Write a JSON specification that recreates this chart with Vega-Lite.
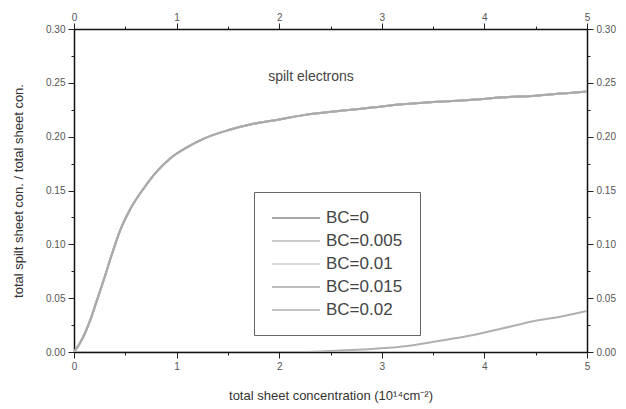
{
  "$schema": "https://vega.github.io/schema/vega-lite/v6.json",
  "autosize": "none",
  "width": 513,
  "height": 323,
  "padding": {"left": 74, "top": 29, "right": 39, "bottom": 57},
  "background": "white",
  "config": {
    "view": {"stroke": null},
    "axis": {
      "grid": false,
      "domainColor": "#111",
      "domainWidth": 1.5,
      "tickColor": "#222",
      "tickWidth": 1,
      "labelColor": "#555",
      "labelFont": "Liberation Sans",
      "labelFontSize": 10,
      "titleFont": "Liberation Sans",
      "titleFontSize": 13,
      "titleFontWeight": "normal",
      "titleColor": "#333"
    },
    "legend": {
      "labelFont": "Liberation Sans"
    }
  },
  "layer": [
    {
      "data": {
        "values": [
          {"x": 0, "b0": 0, "b005": 0, "b01": 0, "b015": 0, "b02": 0},
          {"x": 0.05, "b0": 0.007, "b005": 0.007, "b01": 0.007, "b015": 0.007, "b02": 0},
          {"x": 0.1, "b0": 0.016, "b005": 0.016, "b01": 0.016, "b015": 0.016, "b02": 0},
          {"x": 0.16, "b0": 0.03, "b005": 0.03, "b01": 0.03, "b015": 0.03, "b02": 0},
          {"x": 0.22, "b0": 0.047, "b005": 0.047, "b01": 0.047, "b015": 0.047, "b02": 0},
          {"x": 0.29, "b0": 0.067, "b005": 0.067, "b01": 0.067, "b015": 0.067, "b02": 0},
          {"x": 0.37, "b0": 0.091, "b005": 0.091, "b01": 0.091, "b015": 0.091, "b02": 0},
          {"x": 0.45, "b0": 0.113, "b005": 0.113, "b01": 0.113, "b015": 0.113, "b02": 0},
          {"x": 0.55, "b0": 0.133, "b005": 0.133, "b01": 0.133, "b015": 0.133, "b02": 0},
          {"x": 0.68, "b0": 0.152, "b005": 0.152, "b01": 0.152, "b015": 0.152, "b02": 0},
          {"x": 0.81, "b0": 0.168, "b005": 0.168, "b01": 0.168, "b015": 0.168, "b02": 0},
          {"x": 0.94, "b0": 0.18, "b005": 0.18, "b01": 0.18, "b015": 0.18, "b02": 0},
          {"x": 1.1, "b0": 0.19, "b005": 0.19, "b01": 0.19, "b015": 0.19, "b02": 0},
          {"x": 1.26, "b0": 0.198, "b005": 0.198, "b01": 0.198, "b015": 0.198, "b02": 0},
          {"x": 1.5, "b0": 0.206, "b005": 0.206, "b01": 0.206, "b015": 0.206, "b02": 0},
          {"x": 1.75, "b0": 0.212, "b005": 0.212, "b01": 0.212, "b015": 0.212, "b02": 0},
          {"x": 2.0, "b0": 0.216, "b005": 0.216, "b01": 0.216, "b015": 0.216, "b02": 0},
          {"x": 2.24, "b0": 0.22, "b005": 0.22, "b01": 0.22, "b015": 0.22, "b02": 0},
          {"x": 2.6, "b0": 0.224, "b005": 0.224, "b01": 0.224, "b015": 0.224, "b02": 0.0015},
          {"x": 2.9, "b0": 0.227, "b005": 0.227, "b01": 0.227, "b015": 0.227, "b02": 0.0027},
          {"x": 3.2, "b0": 0.23, "b005": 0.23, "b01": 0.23, "b015": 0.23, "b02": 0.005},
          {"x": 3.54, "b0": 0.2325, "b005": 0.2325, "b01": 0.2325, "b015": 0.2325, "b02": 0.01},
          {"x": 3.85, "b0": 0.234, "b005": 0.234, "b01": 0.234, "b015": 0.234, "b02": 0.015},
          {"x": 4.18, "b0": 0.2365, "b005": 0.2365, "b01": 0.2365, "b015": 0.2365, "b02": 0.022},
          {"x": 4.5, "b0": 0.238, "b005": 0.238, "b01": 0.238, "b015": 0.238, "b02": 0.029},
          {"x": 4.75, "b0": 0.24, "b005": 0.24, "b01": 0.24, "b015": 0.24, "b02": 0.033},
          {"x": 5.0, "b0": 0.242, "b005": 0.242, "b01": 0.242, "b015": 0.242, "b02": 0.038}
        ]
      },
      "transform": [
        {"fold": ["b0", "b005", "b01", "b015", "b02"], "as": ["series", "y"]}
      ],
      "mark": {"type": "line", "strokeWidth": 2, "clip": true, "interpolate": "monotone"},
      "encoding": {
        "x": {
          "field": "x",
          "type": "quantitative",
          "scale": {"domain": [0, 5], "nice": false, "zero": false},
          "axis": {
            "orient": "bottom",
            "values": [0, 0.5, 1, 1.5, 2, 2.5, 3, 3.5, 4, 4.5, 5],
            "labelExpr": "datum.value % 1 === 0 ? format(datum.value, 'd') : ''",
            "tickSize": {"condition": {"test": "datum.value % 1 === 0", "value": 6}, "value": 3},
            "labelPadding": 3,
            "labelFlush": false,
            "title": "total sheet concentration (10¹⁴cm⁻²)",
            "titlePadding": 18
          }
        },
        "y": {
          "field": "y",
          "type": "quantitative",
          "scale": {"domain": [0, 0.3], "nice": false},
          "axis": {
            "orient": "left",
            "values": [0, 0.025, 0.05, 0.075, 0.1, 0.125, 0.15, 0.175, 0.2, 0.225, 0.25, 0.275, 0.3],
            "labelExpr": "round(datum.value * 1000) % 50 === 0 ? format(datum.value, '.2f') : ''",
            "tickSize": {"condition": {"test": "round(datum.value * 1000) % 50 === 0", "value": 6}, "value": 3},
            "labelPadding": 3,
            "labelFlush": false,
            "title": "total spilt sheet con. / total sheet con.",
            "titlePadding": 20
          }
        },
        "color": {
          "field": "series",
          "type": "nominal",
          "scale": {
            "domain": ["b0", "b005", "b01", "b015", "b02"],
            "range": ["#8a8a8a", "#b8b8b8", "#cccccc", "#a9a9a9", "#b0b0b0"]
          },
          "legend": {
            "orient": "none",
            "legendX": 180,
            "legendY": 163,
            "title": null,
            "labelExpr": "{'b0': 'BC=0', 'b005': 'BC=0.005', 'b01': 'BC=0.01', 'b015': 'BC=0.015', 'b02': 'BC=0.02'}[datum.label]",
            "strokeColor": "#666",
            "fillColor": "white",
            "padding": 17,
            "symbolType": "M-1,0H5",
            "symbolSize": 256,
            "symbolStrokeWidth": 1.5,
            "labelFontSize": 17,
            "labelColor": "#444",
            "labelOffset": 37,
            "rowPadding": 6
          }
        }
      }
    },
    {
      "data": {"values": [{"x": 2.31, "y": 0.255, "label": "spilt electrons"}]},
      "mark": {"type": "text", "font": "Liberation Sans", "fontSize": 14, "color": "#444"},
      "encoding": {
        "x": {
          "field": "x",
          "type": "quantitative",
          "scale": {"domain": [0, 5], "nice": false, "zero": false},
          "axis": {
            "orient": "top",
            "values": [0, 0.5, 1, 1.5, 2, 2.5, 3, 3.5, 4, 4.5, 5],
            "labelExpr": "datum.value % 1 === 0 ? format(datum.value, 'd') : ''",
            "tickSize": {"condition": {"test": "datum.value % 1 === 0", "value": 6}, "value": 3},
            "labelPadding": 1,
            "labelFlush": false,
            "title": null
          }
        },
        "y": {
          "field": "y",
          "type": "quantitative",
          "scale": {"domain": [0, 0.3], "nice": false},
          "axis": {
            "orient": "right",
            "values": [0, 0.025, 0.05, 0.075, 0.1, 0.125, 0.15, 0.175, 0.2, 0.225, 0.25, 0.275, 0.3],
            "labelExpr": "round(datum.value * 1000) % 50 === 0 ? format(datum.value, '.2f') : ''",
            "tickSize": {"condition": {"test": "round(datum.value * 1000) % 50 === 0", "value": 6}, "value": 3},
            "labelPadding": 3,
            "labelFlush": false,
            "title": null
          }
        },
        "text": {"field": "label", "type": "nominal"}
      }
    }
  ],
  "resolve": {"axis": {"x": "independent", "y": "independent"}}
}
